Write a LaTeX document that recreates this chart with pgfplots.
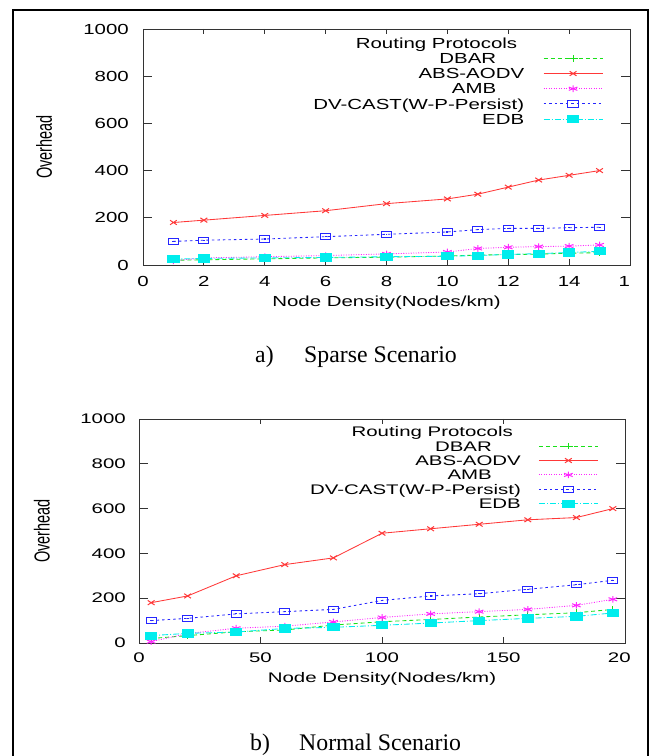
\documentclass[border=0pt]{standalone}
\usepackage{pgfplots}
\pgfplotsset{compat=1.18}
\usepackage{fontspec}
\setmainfont{Liberation Serif}
\newfontfamily\wsA[FakeStretch=1.4]{Liberation Sans}
\newfontfamily\wsB[FakeStretch=1.47]{Liberation Sans}
\newfontfamily\psans{Liberation Sans}
\newcommand{\fA}{\wsA\fontsize{14.6bp}{15bp}\selectfont}
\newcommand{\fB}{\wsB\fontsize{13.9bp}{14bp}\selectfont}
\newcommand{\fY}{\psans\fontsize{14.5bp}{15bp}\selectfont}

\definecolor{cDBAR}{rgb}{0.1,0.88,0.1}
\definecolor{cABS}{rgb}{1,0.22,0.22}
\definecolor{cAMB}{rgb}{1,0.15,1}
\definecolor{cDV}{rgb}{0.15,0.15,1}
\definecolor{cEDB}{rgb}{0,0.93,0.93}

\pgfdeclareplotmark{sqdot}{%
  \pgfpathrectangle{\pgfpoint{-\pgfplotmarksize}{-\pgfplotmarksize}}{\pgfpoint{2\pgfplotmarksize}{2\pgfplotmarksize}}%
  \pgfusepathqstroke
  \pgfpathrectangle{\pgfpoint{-0.6bp}{-0.6bp}}{\pgfpoint{1.2bp}{1.2bp}}%
  \pgfusepathqfill}

\pgfplotsset{
  gp/.style={
    scale only axis, clip=false,
    ymin=0, ymax=1000, ytick={0,200,400,600,800,1000},
    yticklabels={0,200,400,600,800,1000},
    /pgf/number format/assume math mode=true,
    axis line style={line width=0.9bp, black!80},
    tick style={line width=0.9bp, black!80},
    tick align=inside,
    xtick style={/pgfplots/major tick length=5.5bp},
    ytick style={/pgfplots/major tick length=9bp},
    legend plot pos=right, legend cell align=right,
    legend image code/.code={\draw[mark repeat=2,mark phase=2] plot coordinates {(0bp,0bp) (29.5bp,0bp) (59bp,0bp)};},
    every axis plot/.append style={line width=0.85bp},
    ylabel={Overhead},
    xlabel={Node Density(Nodes/km)},
  },
  sDBAR/.style={color=cDBAR, dash pattern=on 4bp off 3bp, mark=+, mark size=3.3bp, mark options={solid, line width=1bp, xscale=1.5}},
  sABS/.style={color=cABS, solid, mark=x, mark size=3.2bp, mark options={solid, line width=1bp, xscale=1.5}},
  sAMB/.style={color=cAMB, dash pattern=on 1bp off 1.5bp, mark=asterisk, mark size=3.3bp, mark options={solid, line width=1bp, xscale=1.5}},
  sDV/.style={color=cDV, dash pattern=on 2.5bp off 3bp, mark=sqdot, mark size=3.2bp, mark options={solid, line width=1bp, xscale=1.6}},
  sEDB/.style={color=cEDB, dash pattern=on 6bp off 2bp on 1bp off 2bp, mark=square*, mark size=3.6bp, mark options={solid, fill=cEDB, xscale=1.55}},
}

\begin{document}
\begin{tikzpicture}
\useasboundingbox (0,0) rectangle (653bp,756bp);
\draw[line width=2bp] (13bp,-10bp) -- (13bp,746bp) -- (648bp,746bp) -- (648bp,-10bp);

% ---------------- a) Sparse ----------------
\begin{axis}[gp,
  at={(143bp,491bp)}, anchor=south west,
  width=487bp, height=236bp,
  xmin=0, xmax=16, xtick={0,2,4,6,8,10,12,14,16},
  xticklabels={0,2,4,6,8,10,12,14,1\phantom{6}},
  xticklabel style={font=\fA, anchor=center, inner sep=0pt, yshift=-16bp},
  yticklabel style={font=\fA, anchor=east, inner sep=0pt, xshift=-14bp},
  xlabel style={font=\fA, at={(axis description cs:0.5,-0.161)}, anchor=center, inner sep=0pt},
  ylabel style={font=\fY, at={(axis description cs:-0.203,0.5)}, anchor=center, inner sep=0pt, yscale=1.5},
  legend style={draw=none, fill=none, inner sep=0pt, outer sep=0pt,
    at={(0.9446,0.9716)}, anchor=north east, font=\fA, column sep=19bp, row sep=0pt,
    nodes={inner sep=0pt, text height=12.8bp, text depth=2.35bp}},
]
\addlegendimage{empty legend}
\addlegendentry{Routing Protocols\hspace*{7bp}}
\addplot[sDBAR] coordinates {(1,20) (2,22) (4,26) (6,30) (8,33) (10,38) (11,42) (12,44) (13,46) (14,50) (15,52)};
\addlegendentry{DBAR\hspace*{28bp}}
\addplot[sABS] coordinates {(1,180) (2,190) (4,210) (6,230) (8,260) (10,280) (11,300) (12,330) (13,360) (14,380) (15,400)};
\addlegendentry{ABS-AODV}
\addplot[sAMB] coordinates {(1,18) (2,30) (4,35) (6,40) (8,47) (10,55) (11,70) (12,75) (13,78) (14,80) (15,85)};
\addlegendentry{AMB\hspace*{28bp}}
\addplot[sDV] coordinates {(1,100) (2,105) (4,110) (6,120) (8,130) (10,140) (11,150) (12,155) (13,155) (14,158) (15,160)};
\addlegendentry{DV-CAST(W-P-Persist)}
\addplot[sEDB] coordinates {(1,25) (2,28) (4,30) (6,32) (8,35) (10,37) (11,40) (12,45) (13,48) (14,53) (15,58)};
\addlegendentry{EDB}
\end{axis}

% ---------------- b) Normal ----------------
\begin{axis}[gp,
  at={(139bp,113bp)}, anchor=south west,
  width=486bp, height=224bp,
  xmin=0, xmax=200, xtick={0,50,100,150,200},
  xticklabels={0,50,100,150,20\phantom{0}},
  xticklabel style={font=\fB, anchor=center, inner sep=0pt, yshift=-14.3bp},
  yticklabel style={font=\fB, anchor=east, inner sep=0pt, xshift=-13bp},
  xlabel style={font=\fB, at={(axis description cs:0.5,-0.161)}, anchor=center, inner sep=0pt},
  ylabel style={font=\fY, at={(axis description cs:-0.2,0.5)}, anchor=center, inner sep=0pt, yscale=1.5},
  legend style={draw=none, fill=none, inner sep=0pt, outer sep=0pt,
    at={(0.9451,0.9754)}, anchor=north east, font=\fB, column sep=17.6bp, row sep=0pt,
    nodes={inner sep=0pt, text height=12.15bp, text depth=2.25bp}},
]
\addlegendimage{empty legend}
\addlegendentry{Routing Protocols\hspace*{8bp}}
\addplot[sDBAR] coordinates {(5,20) (20,33) (40,50) (60,58) (80,80) (100,95) (120,105) (140,116) (160,126) (180,135) (195,150)};
\addlegendentry{DBAR\hspace*{29bp}}
\addplot[sABS] coordinates {(5,180) (20,210) (40,300) (60,350) (80,380) (100,490) (120,510) (140,530) (160,550) (180,560) (195,600)};
\addlegendentry{ABS-AODV}
\addplot[sAMB] coordinates {(5,6) (20,42) (40,66) (60,75) (80,94) (100,114) (120,130) (140,140) (160,150) (180,168) (195,195)};
\addlegendentry{AMB\hspace*{29bp}}
\addplot[sDV] coordinates {(5,100) (20,110) (40,130) (60,140) (80,150) (100,190) (120,210) (140,220) (160,240) (180,260) (195,280)};
\addlegendentry{DV-CAST(W-P-Persist)}
\addplot[sEDB] coordinates {(5,33) (20,43) (40,49) (60,65) (80,70) (100,79) (120,89) (140,100) (160,110) (180,119) (195,134)};
\addlegendentry{EDB}
\end{axis}

\node[anchor=base west, inner sep=0pt, font=\fontsize{23.8bp}{26bp}\selectfont] at (255bp,393bp) {a)};
\node[anchor=base west, inner sep=0pt, font=\fontsize{23.8bp}{26bp}\selectfont] at (304bp,393bp) {Sparse Scenario};
\node[anchor=base west, inner sep=0pt, font=\fontsize{23.8bp}{26bp}\selectfont] at (250bp,6bp) {b)};
\node[anchor=base west, inner sep=0pt, font=\fontsize{23.8bp}{26bp}\selectfont] at (299bp,6bp) {Normal Scenario};
\end{tikzpicture}
\end{document}
